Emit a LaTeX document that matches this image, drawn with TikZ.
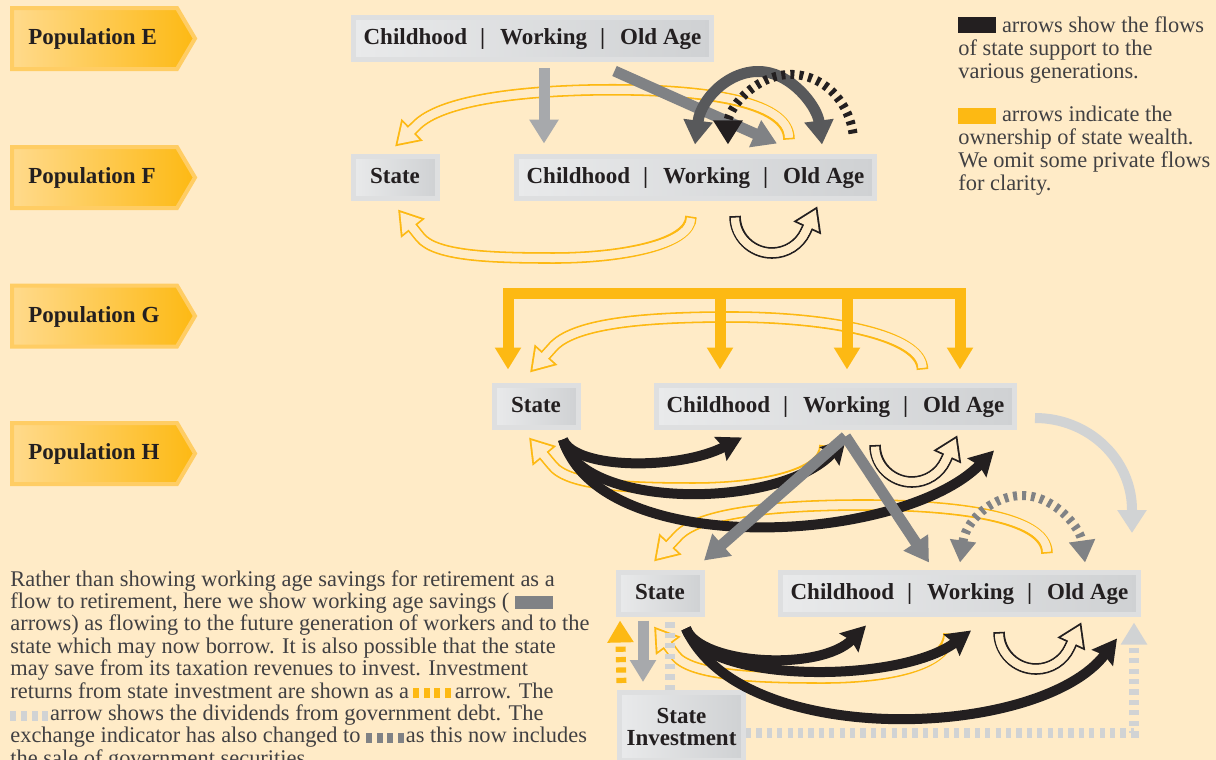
\documentclass[tikz,border=0pt]{standalone}
\usepackage{fontspec}
\setmainfont{Liberation Serif}
\usetikzlibrary{arrows.meta, calc}

\definecolor{paper}{RGB}{255,235,199}
\definecolor{gold}{RGB}{253,185,19}
\definecolor{bandlight}{RGB}{255,218,140}
\definecolor{bandrim}{RGB}{255,205,100}
\definecolor{boxlight}{RGB}{233,234,235}
\definecolor{boxdark}{RGB}{207,209,211}
\definecolor{boxrim}{RGB}{222,223,224}
\definecolor{ink}{RGB}{35,31,32}
\definecolor{bodyink}{RGB}{65,64,66}
\definecolor{flowgrey}{RGB}{128,130,133}
\definecolor{savegrey}{RGB}{167,169,172}
\definecolor{palegrey}{RGB}{209,211,212}
\definecolor{exchgrey}{RGB}{88,89,91}

\newcommand{\labelfont}{\fontsize{11.5}{11}\selectfont\bfseries}
\newcommand{\keyfont}{\fontsize{11.2}{11.5}\selectfont}
\newcommand{\bodyfont}{\fontsize{11.2}{11.2}\selectfont}
\newcommand{\lifestages}{Childhood\hspace{6.5pt}|\hspace{7.5pt}Working\hspace{6.5pt}|\hspace{7.5pt}Old Age}
\newcommand{\dashswatch}[1]{\textcolor{#1}{\rule{3pt}{5pt}\hspace{2.3pt}\rule{3pt}{5pt}\hspace{2.3pt}\rule{3pt}{5pt}\hspace{2.3pt}\rule{3pt}{5pt}}}

\tikzset{%
  >={Triangle[length=12pt, width=14pt]}, % default head of the flows
  % banner on the left edge
  popband/.style={left color=bandlight, right color=gold, draw=bandrim, line width=2pt},
  poplabel/.style={font=\labelfont, text=ink, inner sep=0pt, anchor=west, text height=8pt, text depth=2pt},
  % grey boxes for generations and the state
  genbox/.style={rectangle, draw=boxrim, line width=2.5pt, left color=boxlight, right color=boxdark,
    font=\labelfont, text=ink, inner sep=0pt, minimum height=21pt},
  lifebox/.style={genbox, minimum width=179pt, text height=8pt, text depth=2pt},
  statebox/.style={genbox, minimum width=42pt, text height=8pt, text depth=2pt},
  % savings and exchanges
  saveinfl/.style={draw=#1, line width=5.5pt, ->},
  saveinfl/.default=flowgrey,
  % state support
  supinfl/.style={draw=ink, line width=5pt, -{Stealth[length=12pt, width=13pt, inset=1.5pt]}},
  % dashed exchange indicator
  exchinfl/.style={draw=#1, line width=4.5pt, dash pattern=on 2pt off 2.5pt},
  % returns and dividends
  dotinfl/.style={draw=#1, line width=5pt, dash pattern=on 2.6pt off 2.6pt, -{Triangle[length=11pt, width=12.5pt]}},
  % ownership: hollow arrow, outline colour #1
  hollow/.style={draw=paper, line width=4pt, shorten >=1.75pt, shorten <=0.9pt,
    -{Triangle[length=9.35pt, width=11.3pt]},
    preaction={draw=#1, line width=5.8pt, shorten >=0pt, shorten <=0pt, -{Triangle[length=12pt, width=14.5pt]}},
    postaction={draw=paper, line width=4pt, shorten >=9.6pt, shorten <=0.9pt, -}},
  ownbus/.style={draw=gold, line width=5.5pt},
}

\begin{document}
\begin{tikzpicture}[x=0.5pt, y=-0.5pt]
  \useasboundingbox[fill=paper] (0,0) rectangle (1216,760);

  % population banners
  \foreach \y/\p in {38.5/E, 177.5/F, 316/G, 453.5/H} {
    \path[popband] (12,\y-30.5) -- (177,\y-30.5) -- (195,\y) -- (177,\y+30.5) -- (12,\y+30.5) -- cycle;
    \node[poplabel] (pop\p) at (28,\y) {Population \p};
  }

  % generations and state
  \node[lifebox] (lifeE) at (532.5,38.5) {\lifestages};
  \node[statebox] (stateF) at (395,177) {State};
  \node[lifebox] (lifeF) at (695.5,177) {\lifestages};
  \node[statebox] (stateG) at (536,406) {State};
  \node[lifebox] (lifeG) at (835.5,406) {\lifestages};
  \node[statebox] (stateH) at (660,593) {State};
  \node[lifebox] (lifeH) at (959.5,593) {\lifestages};
  \node[genbox, minimum width=62pt, minimum height=34pt, align=center] (invest) at (681.5,726.5) {State\\Investment};

  % ownership of state wealth
  \draw[hollow=gold] ($(lifeF.north)+(93.5,-14)$) .. controls (789,100) and (700,88) .. (590,90)
    .. controls (500,92) and (440,104) .. (418,124) -- ($(stateF.north)+(0,-7)$);
  \draw[hollow=gold] ($(lifeF.south)+(-4.5,16)$) .. controls (691,245) and (620,258) .. (554,258)
    .. controls (490,258) and (435,256) .. (420,237) -- ($(stateF.south)+(3,9)$);
  \draw[hollow=gold] ($(lifeG.north)+(87,-13)$) .. controls (922,335) and (830,317) .. (730,317)
    .. controls (640,317) and (572,324) .. (552,348) -- ($(stateG.north)+(-6,-10)$);
  \draw[hollow=gold] ($(lifeG.south)+(-10.5,16)$) .. controls (825,475) and (760,488) .. (694,488)
    .. controls (630,488) and (568,486) .. (552,465) -- ($(stateG.south)+(-7,8)$);
  \draw[hollow=gold] ($(lifeH.north east)+(-94,-16)$) .. controls (1047,515) and (950,505) .. (864,505)
    .. controls (780,505) and (700,512) .. (678,536) -- ($(stateH.north)+(-6,-8)$);
  \draw[hollow=gold] ($(lifeH.south)+(-10.5,17)$) .. controls (949,665) and (890,678) .. (823,678)
    .. controls (760,678) and (690,676) .. (675,655) -- ($(stateH.south)+(-6,10)$);
  % private flow into old age
  \foreach \g in {F,G,H}
    \draw[hollow=ink] ($(life\g.south west)+(221,15.5)$) arc[start angle=180, end angle=25, radius=37] -- ++(11.8,-25.4);

  % population E to F
  \draw[saveinfl=savegrey] ($(lifeE.south)+(11.5,6)$) -- ($(lifeF.north west)+(30,-10)$);
  \draw[saveinfl] ($(lifeE.south)+(82,9)$) -- ($(lifeF.north)+(81.5,-10)$);
  \draw[saveinfl=exchgrey, <->] ($(lifeF.north)+(-0.5,-9)$) arc[start angle=190, end angle=350, x radius=64.5, y radius=88.3];
  \draw[exchinfl=ink, ->] ($(lifeF.north)+(157.5,-20)$) arc[start angle=351, end angle=180, x radius=62.9, y radius=70];

  % population G
  \draw[ownbus, line cap=rect] (508,293) -- (960,293);
  \foreach \x in {508,720,847,960}
    \draw[ownbus, shorten >=6.5pt, -{Triangle[length=11pt, width=12.5pt]}] (\x,293) -- (\x,293 |- lifeG.north);
  \draw[supinfl] ($(stateG.south)+(27,10)$) .. controls (575,470) and (680,470) .. ($(lifeG.south west)+(88,8)$);
  \draw[supinfl] ($(stateG.south)+(27,10)$) .. controls (580,510) and (780,510) .. ($(lifeG.south)+(10.5,9)$);
  \draw[supinfl] ($(stateG.south)+(27,10)$) .. controls (600,560) and (900,545) .. ($(lifeG.south east)+(-23,21)$);
  \draw[saveinfl] ($(lifeG.south)+(10,7)$) -- ($(stateH.north)+(44,-9)$);
  \draw[saveinfl] ($(lifeG.south)+(10,7)$) -- ($(lifeH.north west)+(151,-7)$);
  \draw[saveinfl=palegrey, line width=5pt, -{Triangle[length=11.5pt, width=14pt]}] ($(lifeG.east)+(18,12)$)
    arc[start angle=-90, end angle=0, x radius=97, y radius=92] -- ++(0,23);
  \draw[exchinfl=flowgrey, {Triangle[length=11pt, width=12.5pt]}-{Triangle[length=11pt, width=12.5pt]}]
    ($(lifeH.north west)+(182,-7)$) arc[start angle=190, end angle=350, x radius=63.5, y radius=81];

  % population H
  \draw[saveinfl=savegrey, -{Triangle[length=11pt, width=12.5pt]}] ($(stateH.south)+(-17,4)$) -- ($(invest.north)+(-38.5,-8)$);
  \draw[dotinfl=gold] ($(invest.north west)+(4.5,-7)$) -- ($(stateH.south west)+(4.5,4)$);
  \draw[dotinfl=palegrey, -] ($(invest.north)+(-11.5,0)$) -- ($(stateH.south)+(10,4)$);
  \draw[dotinfl=palegrey] ($(invest.east)+(0,6.5)$) -| ($(lifeH.south east)+(-7,6)$);
  \draw[supinfl] ($(stateH.south)+(26,12)$) .. controls (700,665) and (820,672) .. ($(lifeH.south west)+(88,9)$);
  \draw[supinfl] ($(stateH.south)+(26,12)$) .. controls (705,684) and (900,684) .. ($(lifeH.south)+(11.5,14)$);
  \draw[supinfl] ($(stateH.south)+(26,12)$) .. controls (740,750) and (1040,740) .. ($(lifeH.south east)+(-24,22)$);

  % key
  \node[font=\keyfont, text=bodyink, align=left, anchor=north west, inner sep=0pt] (keysup) at (958,16)
    {\textcolor{ink}{\rule[-0.5pt]{19pt}{8pt}} arrows show the flows\\ of state support to the\\ various generations.};
  \node[font=\keyfont, text=bodyink, align=left, anchor=north west, inner sep=0pt] (keyown) at (958,106)
    {\textcolor{gold}{\rule[-1pt]{19pt}{8pt}} arrows indicate the\\ ownership of state wealth.\\ We omit some private flows\\ for clarity.};
  \node[font=\bodyfont, text=bodyink, align=left, anchor=north west, inner sep=0pt] (notes) at (10,570)
    {Rather than showing working age savings for retirement as a\\
     flow to retirement, here we show working age savings ( \textcolor{flowgrey}{\rule{19pt}{6.5pt}}\\
     arrows) as flowing to the future generation of workers and to the\\
     state which may now borrow. It is also possible that the state\\
     may save from its taxation revenues to invest. Investment\\
     returns from state investment are shown as a\hspace{2pt}\dashswatch{gold}\hspace{2pt}arrow. The\\
     \dashswatch{palegrey}\hspace{1pt}arrow shows the dividends from government debt. The\\
     exchange indicator has also changed to \dashswatch{flowgrey}\hspace{1pt}as this now includes\\
     the sale of government securities.};
\end{tikzpicture}
\end{document}
